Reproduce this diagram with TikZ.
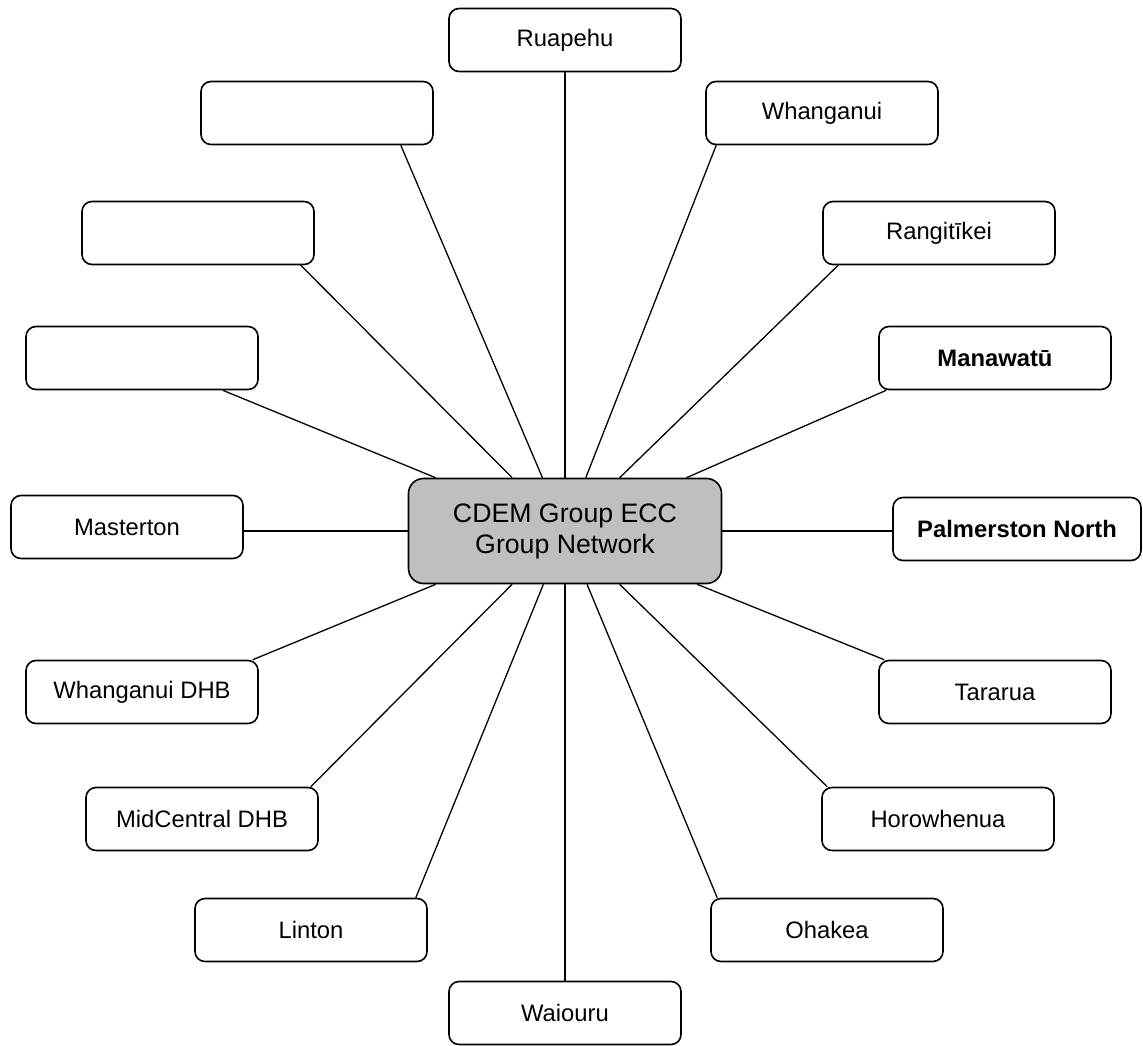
\documentclass[tikz,border=0pt]{standalone}
\usepackage{fontspec}
\setmainfont{Liberation Sans}

\begin{document}
\begin{tikzpicture}[x=1pt,y=-1pt,line width=1.3pt,
  box/.style={draw,rounded corners=10pt,line width=1.6pt,minimum width=232pt,minimum height=63pt,inner sep=0pt,font=\fontsize{23.8}{28}\selectfont},
  hub/.style={draw,rounded corners=15pt,line width=1.6pt,fill=black!25,minimum width=313pt,minimum height=105pt,align=center,font=\fontsize{26.7}{31}\selectfont}]
\useasboundingbox (0,0) rectangle (1143,1046);
\node[hub] (c) at (565,531) {CDEM Group ECC\\Group Network};
% right side
\node[box] (ru) at (565,40) {Ruapehu};
\node[box] (wh) at (822,113) {Whanganui};
\node[box] (ra) at (939,233) {Rangitīkei};
\node[box] (ma) at (995,358) {\textbf{Manawatū}};
\node[box,minimum width=248pt] (pn) at (1017,529) {\textbf{Palmerston North}};
\node[box] (ta) at (995,692) {Tararua};
\node[box] (ho) at (938,819) {Horowhenua};
\node[box] (oh) at (827,930) {Ohakea};
% left side
\node[box] (wa) at (565,1013) {Waiouru};
\node[box] (li) at (311,930) {Linton};
\node[box] (mc) at (202,819) {MidCentral DHB};
\node[box] (wd) at (142,692) {Whanganui DHB};
\node[box] (ms) at (127,527) {Masterton};
\node[box] (e1) at (142,358) {};
\node[box] (e2) at (198,233) {};
\node[box] (e3) at (317,113) {};
\path (c) edge (ru)
      (c) edge ([xshift=11pt]wh.south west)
      (c) edge ([xshift=16pt]ra.south west)
      (c) edge ([xshift=8pt]ma.south west)
      (c) edge (c -| pn.west)
      (c) edge ([xshift=6pt]ta.north west)
      (c) edge ([xshift=6pt]ho.north west)
      (c) edge ([xshift=7pt]oh.north west)
      (c) edge (wa)
      (c) edge ([xshift=-12pt]li.north east)
      (c) edge ([xshift=-8pt]mc.north east)
      (c) edge ([xshift=-6pt]wd.north east)
      (c) edge (c -| ms.east)
      (c) edge ([xshift=-36pt]e1.south east)
      (c) edge ([xshift=-14pt]e2.south east)
      (c) edge ([xshift=-33pt]e3.south east)
;
\end{tikzpicture}
\end{document}
